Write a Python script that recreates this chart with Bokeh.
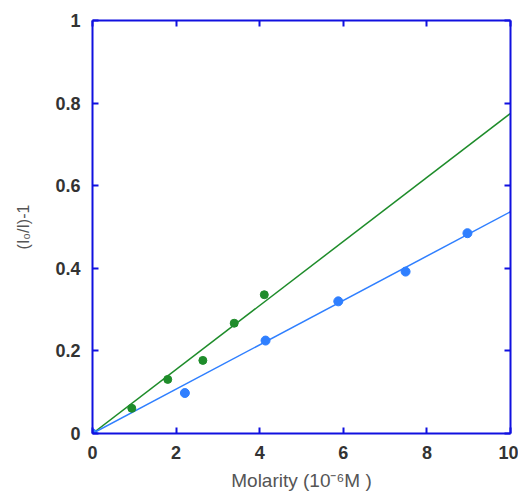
from bokeh.plotting import figure
from bokeh.models import LinearAxis, Range1d, FixedTicker, CustomJSTickFormatter
from bokeh.embed import file_html
from bokeh.resources import INLINE

# Data
green_x = [0.0, 0.94, 1.80, 2.64, 3.39, 4.11]
green_y = [0.0, 0.061, 0.131, 0.177, 0.267, 0.336]
blue_x = [0.0, 2.21, 4.14, 5.88, 7.49, 8.97]
blue_y = [0.0, 0.098, 0.225, 0.320, 0.392, 0.485]
green_fit_x = [0.0, 10.0]
green_fit_y = [0.0, 0.775]
blue_fit_x = [0.0, 10.0]
blue_fit_y = [0.0, 0.537]
x_ticks = [0, 2, 4, 6, 8, 10]
y_ticks = [0, 0.2, 0.4, 0.6, 0.8, 1]

GREEN = "#1e8c2a"
BLUE = "#2f7fff"
AXIS = "#1010e0"
TXT = "#333333"
LBL = "#555555"
FONT = "Liberation Sans"

p = figure(width=518, height=497, output_backend="svg", toolbar_location=None,
           x_range=Range1d(0, 10), y_range=Range1d(0, 1),
           min_border_left=92, min_border_right=8, min_border_top=20,
           min_border_bottom=64, background_fill_color="white",
           border_fill_color="white", outline_line_color=None)
p.grid.visible = False

def style(ax):
    ax.axis_line_color = AXIS
    ax.axis_line_width = 2
    ax.major_tick_line_color = AXIS
    ax.major_tick_line_width = 2
    ax.major_tick_in = 6
    ax.major_tick_out = 0
    ax.minor_tick_line_color = None
    ax.major_label_text_font = FONT
    ax.major_label_text_font_size = "18px"
    ax.major_label_text_font_style = "bold"
    ax.major_label_text_color = TXT
    ax.axis_label_text_font = FONT
    ax.axis_label_text_font_style = "normal"
    ax.axis_label_text_color = LBL

p.xaxis.ticker = FixedTicker(ticks=x_ticks)
p.yaxis.ticker = FixedTicker(ticks=y_ticks)
p.xaxis.major_label_overrides = {0: "0", 2: "2", 4: "4", 6: "6", 8: "8", 10: "10"}
p.yaxis.major_label_overrides = {0: "0", 0.2: "0.2", 0.4: "0.4", 0.6: "0.6", 0.8: "0.8", 1: "1"}
p.xaxis.axis_label = "Molarity (10\u207b\u2076M )"
p.yaxis.axis_label = "(I\u2080/I)-1"
style(p.xaxis[0])
style(p.yaxis[0])
p.xaxis.axis_label_text_font_size = "19px"
p.yaxis.axis_label_text_font_size = "16px"
p.xaxis.major_label_standoff = 12
p.yaxis.major_label_standoff = 12
p.yaxis.axis_label_standoff = 20
p.xaxis.axis_label_standoff = 8

blank = CustomJSTickFormatter(code="return '';")
top = LinearAxis(ticker=FixedTicker(ticks=x_ticks), formatter=blank)
right = LinearAxis(ticker=FixedTicker(ticks=y_ticks), formatter=blank)
style(top)
style(right)
top.major_label_standoff = 0
right.major_label_standoff = 0
p.add_layout(top, "above")
p.add_layout(right, "right")

p.line(green_fit_x, green_fit_y, line_color=GREEN, line_width=1.5)
p.line(blue_fit_x, blue_fit_y, line_color=BLUE, line_width=1.5)
p.scatter(green_x, green_y, size=8, color=GREEN)
p.scatter(blue_x, blue_y, size=9, color=BLUE)

open("out.html", "w").write(file_html(p, INLINE))
